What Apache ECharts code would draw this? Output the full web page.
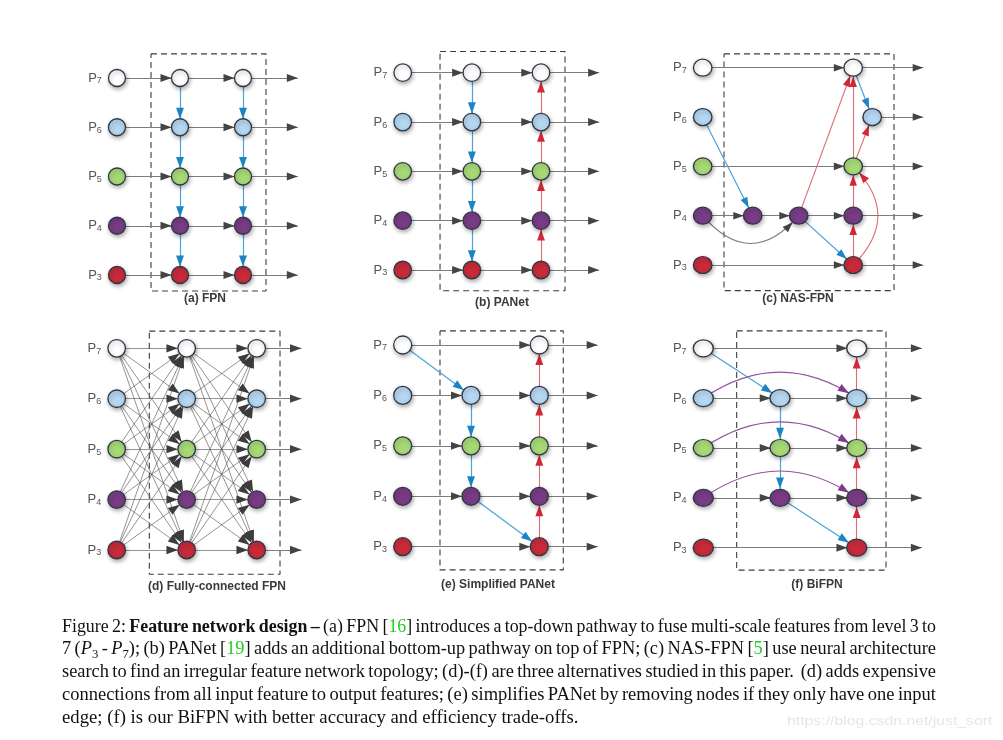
<!DOCTYPE html>
<html><head><meta charset="utf-8">
<script src="https://cdn.jsdelivr.net/npm/echarts@6/dist/echarts.min.js"></script>
<style>html,body{margin:0;padding:0;background:#fff}#c{width:1003px;height:740px}</style>
</head><body><div id="c"></div>
<script>
// ================= DATA =================
const levels = [7, 6, 5, 4, 3];                 // pyramid levels P7..P3
const levelColors = { 7: '#ffffff', 6: '#b5d6f0', 5: '#a6d975', 4: '#7a3b85', 3: '#c92a3a' };

// column positions (column units) of each panel
const fpnColumns    = { in: 0, c1: 1, c2: 2, out: 2.87 };
const panetColumns  = { in: 0, c1: 1, c2: 2, out: 2.84 };
const nasColumns    = { in: 0, n1: 1, n2: 1.92, o: 3.01, o6: 3.39, out: 4.41 };
const fcColumns     = { in: 0, c1: 1, c2: 2, out: 2.64 };
const simpleColumns = { in: 0, c1: 1, c2: 2, out: 2.855 };
const bifpnColumns  = { in: 0, c1: 1, c2: 2, out: 2.85 };

// nodes: [column, level]
const allIn = levels.map(l => ['in', l]);
const fpnNodes    = allIn.concat(levels.map(l => ['c1', l]), levels.map(l => ['c2', l]));
const panetNodes  = fpnNodes;
const nasNodes    = allIn.concat([['n1', 4], ['n2', 4], ['o', 7], ['o6', 6], ['o', 5], ['o', 4], ['o', 3]]);
const fcNodes     = fpnNodes;
const simpleNodes = allIn.concat([['c1', 6], ['c1', 5], ['c1', 4]], levels.map(l => ['c2', l]));
const bifpnNodes  = simpleNodes;

// output nodes (drawn with an arrow out to the right)
const fpnOutputs    = levels.map(l => ['c2', l]);
const nasOutputs    = [['o', 7], ['o6', 6], ['o', 5], ['o', 4], ['o', 3]];

// edges: [fromCol, fromLevel, toCol, toLevel, kind, curveness]
const fpnEdges = [].concat(
  levels.map(l => ['in', l, 'c1', l, 'g']),
  levels.map(l => ['c1', l, 'c2', l, 'g']),
  [['c1',7,'c1',6,'b'],['c1',6,'c1',5,'b'],['c1',5,'c1',4,'b'],['c1',4,'c1',3,'b']],
  [['c2',7,'c2',6,'b'],['c2',6,'c2',5,'b'],['c2',5,'c2',4,'b'],['c2',4,'c2',3,'b']]
);
const panetEdges = [].concat(
  levels.map(l => ['in', l, 'c1', l, 'g']),
  levels.map(l => ['c1', l, 'c2', l, 'g']),
  [['c1',7,'c1',6,'b'],['c1',6,'c1',5,'b'],['c1',5,'c1',4,'b'],['c1',4,'c1',3,'b']],
  [['c2',3,'c2',4,'r'],['c2',4,'c2',5,'r'],['c2',5,'c2',6,'r'],['c2',6,'c2',7,'r']]
);
const nasEdges = [
  ['in',7,'o',7,'g'], ['in',5,'o',5,'g'], ['in',3,'o',3,'g'],
  ['in',4,'n1',4,'g'], ['n1',4,'n2',4,'g'], ['n2',4,'o',4,'g'], ['in',4,'n2',4,'g',-0.58],
  ['in',6,'n1',4,'b'], ['n2',4,'o',3,'b'], ['o',7,'o6',6,'b'],
  ['n2',4,'o',7,'r'], ['o',3,'o',4,'r'], ['o',4,'o',5,'r'], ['o',5,'o',7,'r'],
  ['o',5,'o6',6,'r'], ['o',3,'o',5,'r',-0.5]
];
const fcEdges = [];
levels.forEach(a => levels.forEach(b => fcEdges.push(['in', a, 'c1', b, 'f'])));
levels.forEach(a => levels.forEach(b => fcEdges.push(['c1', a, 'c2', b, 'f'])));
const simpleEdges = [
  ['in',7,'c2',7,'g'], ['in',6,'c1',6,'g'], ['c1',6,'c2',6,'g'], ['in',5,'c1',5,'g'],
  ['c1',5,'c2',5,'g'], ['in',4,'c1',4,'g'], ['c1',4,'c2',4,'g'], ['in',3,'c2',3,'g'],
  ['in',7,'c1',6,'b'], ['c1',6,'c1',5,'b'], ['c1',5,'c1',4,'b'], ['c1',4,'c2',3,'b'],
  ['c2',3,'c2',4,'r'], ['c2',4,'c2',5,'r'], ['c2',5,'c2',6,'r'], ['c2',6,'c2',7,'r']
];
const bifpnEdges = simpleEdges.concat([
  ['in',6,'c2',6,'p',0.34], ['in',5,'c2',5,'p',0.34], ['in',4,'c2',4,'p',0.35]
]);

const panelTitles = ['(a) FPN', '(b) PANet', '(c) NAS-FPN', '(d) Fully-connected FPN', '(e) Simplified PANet', '(f) BiFPN'];

// caption lines: [style, text] segments
const captionLines = [
  [['n','Figure 2: '],['b','Feature network design –'],['n',' (a) FPN ['],['g','16'],['n','] introduces a top-down pathway to fuse multi-scale features from level 3 to']],
  [['n','7 ('],['i','P'],['s','3'],['n',' - '],['i','P'],['s','7'],['n','); (b) PANet ['],['g','19'],['n','] adds an additional bottom-up pathway on top of FPN; (c) NAS-FPN ['],['g','5'],['n','] use neural architecture']],
  [['n','search to find an irregular feature network topology; (d)-(f) are three alternatives studied in this paper.  (d) adds expensive']],
  [['n','connections from all input feature to output features; (e) simplifies PANet by removing nodes if they only have one input']],
  [['n','edge; (f) is our BiFPN with better accuracy and efficiency trade-offs.']]
];
const watermark = 'https://blog.csdn.net/just_sort';

// ================= LAYOUT / STYLE =================
const panels = [
  { cols: fpnColumns,    nodes: fpnNodes,    outputs: fpnOutputs, edges: fpnEdges,    grid: {left:117,   top:78,    width:180.8, height:197},   box:[0.54,2.365,7.49,2.675], size:17,     arrow:22, title:[205,299] },
  { cols: panetColumns,  nodes: panetNodes,  outputs: fpnOutputs, edges: panetEdges,  grid: {left:402.7, top:72.7,  width:196.4, height:197.3}, box:[0.54,2.347,7.43,2.58],  size:17.5,   arrow:22, title:[502,303] },
  { cols: nasColumns,    nodes: nasNodes,    outputs: nasOutputs, edges: nasEdges,    grid: {left:702.7, top:67.7,  width:220.5, height:197.3}, box:[0.426,3.826,7.28,2.48], size:[18.5,17], arrow:21, title:[798,299] },
  { cols: fcColumns,     nodes: fcNodes,     outputs: fpnOutputs, edges: fcEdges,     grid: {left:116.7, top:348.3, width:184.8, height:201.7}, box:[0.466,2.333,7.34,2.52], size:17.5,   arrow:23, title:[217,587] },
  { cols: simpleColumns, nodes: simpleNodes, outputs: fpnOutputs, edges: simpleEdges, grid: {left:402.7, top:345,   width:195,   height:201.7}, box:[0.546,2.351,7.28,2.54], size:18,     arrow:22, title:[498,585] },
  { cols: bifpnColumns,  nodes: bifpnNodes,  outputs: fpnOutputs, edges: bifpnEdges,  grid: {left:703.3, top:348.3, width:218.6, height:199.4}, box:[0.435,2.382,7.35,2.55], size:[20,17], arrow:22, title:[817,585] }
];

// line colour / arrow colour per edge kind
const edgeStyles = {
  g: { line: '#7c7c7c', head: '#444444', width: 1.2 },
  b: { line: '#4aa3da', head: '#1a84c4', width: 1.2 },
  r: { line: '#e06a75', head: '#d02838', width: 1.1 },
  p: { line: '#9550a0', head: '#7e3a8c', width: 1.2 },
  f: { line: '#5a5a5a', head: '#3c3c3c', width: 0.65 }
};
// triangle whose tip is at the symbol centre
const ARROW = 'path://M10,10L13.6,20L6.4,20Z M0,0L0,0 M20,0L20,0';
const SANS = 'Liberation Sans';
const SERIF = 'Liberation Serif';

const grids = [], xAxes = [], yAxes = [], series = [], graphics = [];

panels.forEach((p, i) => {
  grids.push(Object.assign({ containLabel: false }, p.grid));
  xAxes.push({ type: 'value', gridIndex: i, min: 0, max: p.cols.out, show: false });
  yAxes.push({ type: 'value', gridIndex: i, min: 3, max: 7, show: false });

  const nodes = [], index = {};
  const add = (c, l, vis) => {
    const k = c + '_' + l;
    if (!(k in index)) { index[k] = nodes.length; nodes.push({ c, l, vis }); }
    return index[k];
  };
  p.nodes.forEach(([c, l]) => add(c, l, true));
  const lineLinks = [], headLinks = [];
  const link = (a, b, kind, curv) => {
    const s = edgeStyles[kind];
    lineLinks.push({ source: a, target: b, symbol: ['none', 'none'],
      lineStyle: { color: s.line, width: s.width, opacity: 1, curveness: curv || 0 } });
    headLinks.push({ source: a, target: b,
      lineStyle: { color: s.head, width: 0, opacity: 1, curveness: curv || 0 } });
  };
  p.edges.forEach(e => link(index[e[0] + '_' + e[1]], index[e[2] + '_' + e[3]], e[4], e[5]));
  p.outputs.forEach(([c, l]) => link(index[c + '_' + l], add('out', l, false), 'g'));

  const data = nodes.map(n => ({
    value: [p.cols[n.c], n.l],
    symbolSize: n.vis ? p.size : 0,
    itemStyle: n.vis ? {
      color: levelColors[n.l], borderColor: '#2e3845', borderWidth: 1.3,
      shadowBlur: 4, shadowColor: 'rgba(0,0,0,0.32)', shadowOffsetX: 1, shadowOffsetY: 2
    } : { color: 'rgba(0,0,0,0)', borderWidth: 0 },
    label: n.c === 'in' ? {
      show: true, position: 'left', distance: 6,
      formatter: '{p|P}{s|' + n.l + '}',
      rich: {
        p: { fontFamily: SANS, fontSize: 13, color: '#555', lineHeight: 15 },
        s: { fontFamily: SANS, fontSize: 9, color: '#555', lineHeight: 8, verticalAlign: 'bottom' }
      }
    } : { show: false }
  }));

  series.push({
    type: 'line', xAxisIndex: i, yAxisIndex: i, clip: false, symbol: 'none', silent: true, z: 1,
    data: [[p.box[0], p.box[2]], [p.box[1], p.box[2]], [p.box[1], p.box[3]], [p.box[0], p.box[3]], [p.box[0], p.box[2]]],
    lineStyle: { color: '#3c3c3c', width: 1.1, type: [6, 4] }
  });
  // edge lines
  series.push({
    type: 'graph', coordinateSystem: 'cartesian2d', xAxisIndex: i, yAxisIndex: i, layout: 'none',
    symbol: 'circle', edgeSymbol: ['none', 'none'],
    data: data.map(d => ({ value: d.value, symbolSize: d.symbolSize, itemStyle: { opacity: 0 } })),
    links: lineLinks, lineStyle: { opacity: 1 }, silent: true, z: 2,
    emphasis: { disabled: true }
  });
  // arrow heads + nodes
  series.push({
    type: 'graph', coordinateSystem: 'cartesian2d', xAxisIndex: i, yAxisIndex: i, layout: 'none',
    symbol: 'circle', edgeSymbol: ['none', ARROW], edgeSymbolSize: [0, p.arrow],
    data, links: headLinks, lineStyle: { opacity: 1 }, silent: true, z: 3,
    emphasis: { disabled: true }
  });

  graphics.push({
    type: 'text', x: p.title[0], y: p.title[1], silent: true,
    style: { text: panelTitles[i], font: 'bold 12px ' + SANS, fill: '#3a3a3a', align: 'center', verticalAlign: 'middle' }
  });
});

// ---- caption (justified through space tokens) ----
const FS = 18, CAP_SX = 1.04;
const capStyles = {
  n: { fontFamily: SERIF, fontSize: FS, fill: '#111', lineHeight: 22 },
  b: { fontFamily: SERIF, fontSize: FS, fontWeight: 'bold', fill: '#111', lineHeight: 22 },
  g: { fontFamily: SERIF, fontSize: FS, fill: '#1fcf1f', lineHeight: 22 },
  i: { fontFamily: SERIF, fontSize: FS, fontStyle: 'italic', fill: '#111', lineHeight: 22 },
  s: { fontFamily: SERIF, fontSize: 12.5, fill: '#111', lineHeight: 13, verticalAlign: 'bottom' }
};
const ctx = document.createElement('canvas').getContext('2d');
function fontOf(st) {
  return [st.fontStyle || '', st.fontWeight || '', st.fontSize + 'px', st.fontFamily].join(' ').trim();
}
function measure(t, st) { ctx.font = fontOf(st); return ctx.measureText(t).width; }
const capLeft = 62, capRight = 936, capY0 = 627, capDy = 22.75;
captionLines.forEach((segs, li) => {
  const tokens = [];
  segs.forEach(([st, tx]) => {
    tx.split(' ').forEach((part, k) => {
      if (k > 0) tokens.push(['sp', ' ']);
      if (part) tokens.push([st, part]);
    });
  });
  const spW = measure(' ', capStyles.n);
  let words = 0, nsp = 0;
  tokens.forEach(t => { if (t[0] === 'sp') nsp++; else words += measure(t[1], capStyles[t[0]]); });
  const justify = li < captionLines.length - 1;
  const target = capRight - capLeft;
  let sx = CAP_SX, sp = spW;
  if (justify && nsp) {
    const minSp = spW * 0.75;
    sp = (target / sx - words) / nsp;
    if (sp < minSp) { sp = minSp; sx = target / (words + nsp * sp); }
  }
  const rich = Object.assign({}, capStyles, { sp: Object.assign({}, capStyles.n, { width: sp }) });
  const text = tokens.map(t => '{' + t[0] + '|' + t[1] + '}').join('');
  graphics.push({
    type: 'text', x: capLeft, y: capY0 + li * capDy, scaleX: sx, silent: true,
    style: { text, rich, verticalAlign: 'middle', align: 'left' }
  });
});

graphics.push({
  type: 'text', x: 787, y: 721, scaleX: 1.17, silent: true,
  style: { text: watermark, font: '13.5px ' + SANS, fill: '#e6e6e6', verticalAlign: 'middle' }
});

const chart = echarts.init(document.getElementById('c'), null, { renderer: 'canvas' });
chart.setOption({
  backgroundColor: '#ffffff',
  animation: false,
  grid: grids, xAxis: xAxes, yAxis: yAxes,
  series, graphic: graphics
});
</script></body></html>
